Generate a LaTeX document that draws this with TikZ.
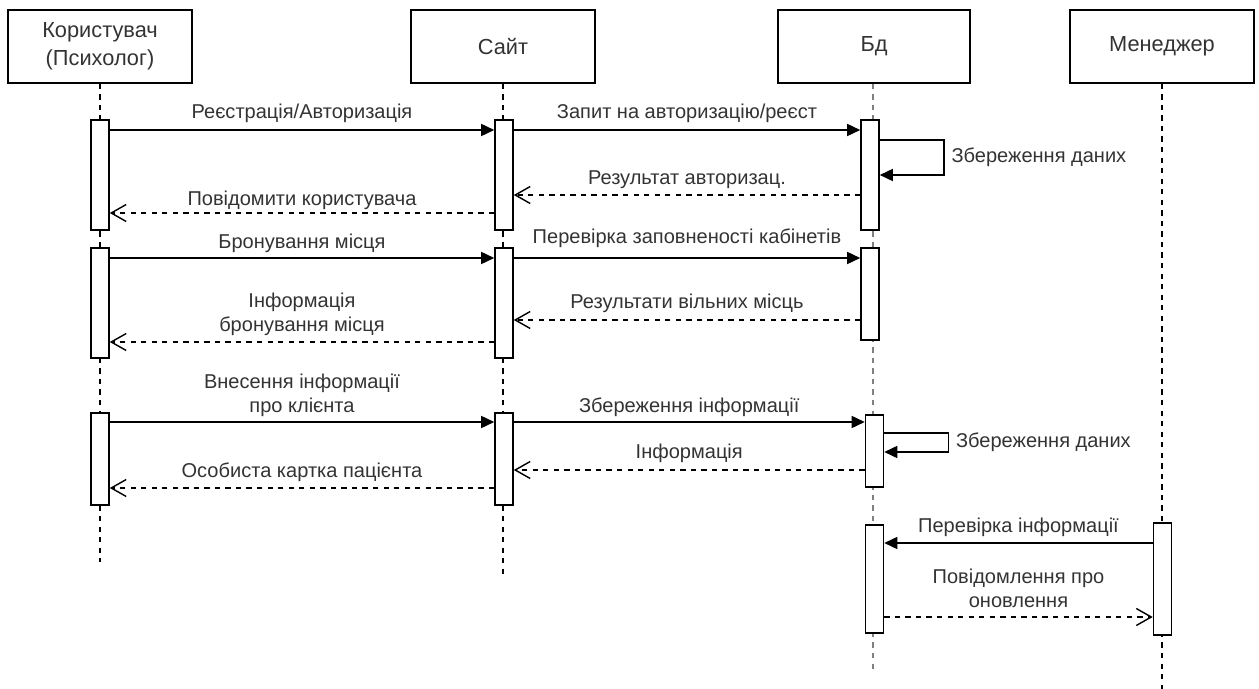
\documentclass[tikz,border=0pt]{standalone}
\usepackage{fontspec}
\setmainfont{Liberation Sans}
\usetikzlibrary{arrows.meta}
\begin{document}
\begin{tikzpicture}[x=0.02cm, y=-0.02cm,
  head/.style={draw, line width=0.9pt, minimum width=#1*0.02cm, minimum height=1.46cm,
    align=center, inner sep=0pt, text=black!80, font=\fontsize{12.4}{16}\selectfont},
  head/.default=184,
  lifeline/.style={line width=0.8pt, dash pattern=on 3pt off 3pt},
  bar/.style={draw, fill=white, line width=0.9pt, minimum width=0.36cm,
    minimum height=#1*0.02cm, inner sep=0pt},
  call/.style={line width=0.9pt, -{Triangle[length=0.26cm,width=0.24cm]}},
  reply/.style={line width=0.8pt, dash pattern=on 3pt off 3pt,
    -{Straight Barb[length=0.3cm,width=0.34cm]}},
  lbl/.style={text=black!80, align=center, inner sep=0pt,
    font=\fontsize{11.4}{13.7}\selectfont}]
\useasboundingbox (0,0) rectangle (1259,689);

% participants
\node[head] (user) at (100,46.5) {Користувач\\(Психолог)};
\node[head] (site) at (503,46.5) {Сайт};
\node[head=192] (db) at (874,46.5) {Бд};
\node[head] (mgr) at (1162,46.5) {Менеджер};

% lifelines
\coordinate (uEnd) at (100,562);
\coordinate (sEnd) at (503,577);
\coordinate (dEnd) at (873,672);
\coordinate (mEnd) at (1162,689);
\draw[lifeline] (user.south) -- (uEnd);
\draw[lifeline] (site.south) -- (sEnd);
\draw[lifeline, draw=black!50] (db.south -| dEnd) -- (dEnd);
\draw[lifeline] (mgr.south) -- (mEnd);

% activation bars
\node[bar=110] (u1) at (100,175) {};
\node[bar=110] (u2) at (100,303) {};
\node[bar=92]  (u3) at (100,459) {};
\node[bar=110] (s1) at (504,175) {};
\node[bar=110] (s2) at (504,303) {};
\node[bar=92]  (s3) at (504,459) {};
\node[bar=110] (d1) at (870,175) {};
\node[bar=92]  (d2) at (870,294) {};
\node[bar=72]  (d3) at (874.5,451) {};
\node[bar=108] (d4) at (874.5,579) {};
\node[bar=112] (m1) at (1162.5,579) {};

% message levels
\coordinate (y1) at (0,130);
\coordinate (y2a) at (0,140);
\coordinate (y2b) at (0,175);
\coordinate (y3) at (0,195);
\coordinate (y4) at (0,213);
\coordinate (y5) at (0,258);
\coordinate (y6) at (0,320);
\coordinate (y7) at (0,342);
\coordinate (y8) at (0,422);
\coordinate (y9a) at (0,433);
\coordinate (y9b) at (0,452);
\coordinate (y10) at (0,470);
\coordinate (y11) at (0,488);
\coordinate (y12) at (0,543);
\coordinate (y13) at (0,617);

% registration / authorisation
\draw[call] (u1.east |- y1) -- node[lbl, yshift=0.34cm] {Реєстрація/Авторизація} (s1.west |- y1);
\draw[call] (s1.east |- y1) -- node[lbl, yshift=0.34cm] {Запит на авторизацію/реєст} (d1.west |- y1);
\draw[call] (d1.east |- y2a) -- ++(64,0) -- node[lbl, midway, anchor=west, xshift=0.14cm] {Збереження даних} ++(0,35) -- (d1.east |- y2b);
\draw[reply] (d1.west |- y3) -- node[lbl, yshift=0.30cm] {Результат авторизац.} (s1.east |- y3);
\draw[reply] (s1.west |- y4) -- node[lbl, yshift=0.26cm] {Повідомити користувача} (u1.east |- y4);

% booking
\draw[call] (u2.east |- y5) -- node[lbl, yshift=0.30cm] {Бронування місця} (s2.west |- y5);
\draw[call] (s2.east |- y5) -- node[lbl, yshift=0.40cm] {Перевірка заповненості кабінетів} (d2.west |- y5);
\draw[reply] (d2.west |- y6) -- node[lbl, yshift=0.34cm] {Результати вільних місць} (s2.east |- y6);
\draw[reply] (s2.west |- y7) -- node[lbl, yshift=0.56cm] {Інформація\\бронування місця} (u2.east |- y7);

% client data
\draw[call] (u3.east |- y8) -- node[lbl, yshift=0.54cm] {Внесення інформації\\про клієнта} (s3.west |- y8);
\draw[call] (s3.east |- y8) -- node[lbl, yshift=0.30cm] {Збереження інформації} (d3.west |- y8);
\draw[call] (d3.east |- y9a) -- ++(64,0) -- node[lbl, midway, anchor=west, xshift=0.14cm] {Збереження даних} ++(0,19) -- (d3.east |- y9b);
\draw[reply] (d3.west |- y10) -- node[lbl, yshift=0.34cm] {Інформація} (s3.east |- y10);
\draw[reply] (s3.west |- y11) -- node[lbl, yshift=0.32cm] {Особиста картка пацієнта} (u3.east |- y11);

% manager check
\draw[call] (m1.west |- y12) -- node[lbl, yshift=0.32cm] {Перевірка інформації} (d4.east |- y12);
\draw[reply] (d4.east |- y13) -- node[lbl, yshift=0.58cm] {Повідомлення про\\оновлення} (m1.west |- y13);
\end{tikzpicture}
\end{document}
